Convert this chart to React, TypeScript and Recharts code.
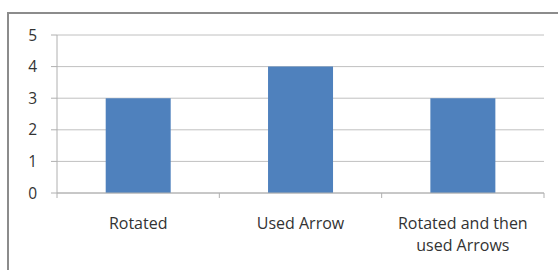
import React from 'react';
import { BarChart, Bar, XAxis, YAxis, CartesianGrid, Text } from 'recharts';

const categories = ['Rotated', 'Used Arrow', 'Rotated and then used Arrows'];
const values = [3, 4, 3];
const yTicks = [0, 1, 2, 3, 4, 5];

const data = categories.map((name, i) => ({ name, value: values[i] }));

const W = 558;
const H = 270;
const margin = { top: 35, right: 14, bottom: 17, left: 27 };
const yAxisWidth = 30;
const band = (W - margin.left - margin.right - yAxisWidth) / categories.length;

const font = '"Open Sans", sans-serif';
const axisColor = '#b0b0b0';

function CategoryTick(props: any) {
  const { x, y, payload, index } = props;
  const left = x - band / 2;
  return (
    <g>
      <line x1={left} y1={y} x2={left} y2={y + 5} stroke={axisColor} />
      {index === categories.length - 1 && (
        <line x1={left + band} y1={y} x2={left + band} y2={y + 5} stroke={axisColor} />
      )}
      <Text
        x={x}
        y={y + 25}
        width={150}
        textAnchor="middle"
        verticalAnchor="start"
        lineHeight={22}
        fill="#333"
        style={{ fontFamily: font, fontSize: 16 }}
      >
        {payload.value}
      </Text>
    </g>
  );
}

export default function App() {
  return (
    <div style={{ position: 'fixed', left: 0, top: 0, width: W, height: H, background: '#fff', overflow: 'hidden' }}>
      <div
        style={{
          position: 'absolute',
          left: 7,
          top: 12,
          width: 600,
          height: 320,
          border: '2px solid #8c8c8c',
        }}
      />
      <div style={{ position: 'absolute', left: 0, top: 0 }}>
        <BarChart width={W} height={H} data={data} margin={margin} barCategoryGap="30%">
          <CartesianGrid vertical={false} stroke="#c0c0c0" />
          <XAxis
            dataKey="name"
            height={60}
            stroke={axisColor}
            tickLine={false}
            tickSize={0}
            tickMargin={0}
            interval={0}
            tick={<CategoryTick />}
          />
          <YAxis
            width={yAxisWidth}
            domain={[0, 5]}
            ticks={yTicks}
            stroke={axisColor}
            tickSize={6}
            tickMargin={14}
            tick={{ fill: '#333', fontSize: 15.5, fontFamily: font }}
          />
          <Bar dataKey="value" fill="#4f81bd" isAnimationActive={false} />
        </BarChart>
      </div>
    </div>
  );
}
